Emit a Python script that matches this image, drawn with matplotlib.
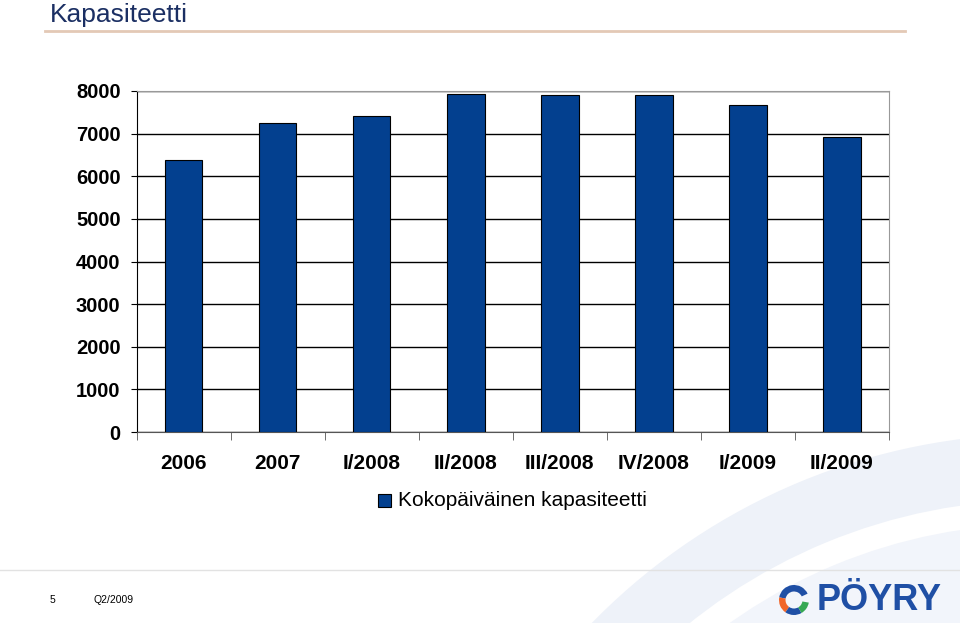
import numpy as np
import matplotlib
matplotlib.use("Agg")
import matplotlib.pyplot as plt
from matplotlib.patches import Rectangle, Wedge

plt.rcParams['font.family'] = ['Liberation Sans', 'DejaVu Sans']

categories = ["2006", "2007", "I/2008", "II/2008", "III/2008", "IV/2008", "I/2009", "II/2009"]
capacity = [6370, 7260, 7420, 7930, 7900, 7910, 7660, 6930]
series_name = "Kokopäiväinen kapasiteetti"
y_ticks = [0, 1000, 2000, 3000, 4000, 5000, 6000, 7000, 8000]

W, H = 960, 623
fig = plt.figure(figsize=(W / 100, H / 100), dpi=100)
fig.patch.set_facecolor("white")

# pixel-space background layer (y down)
bg = fig.add_axes([0, 0, 1, 1], zorder=-10)
bg.set_xlim(0, W)
bg.set_ylim(H, 0)
bg.axis("off")

# faint watermark swooshes, bottom right
bg.add_patch(Wedge((1040, 1060), 626, 0, 360, width=66, color="#eef2f9", lw=0))
bg.add_patch(Wedge((1040, 1060), 536, 0, 360, width=260, color="#f2f5fb", lw=0))

# title and rules
fig.text(50 / W, 1 - 15 / H, "Kapasiteetti", fontsize=19, color="#1b2f63",
         va="center", ha="left")
bg.plot([45, 905], [31, 31], color="#e3c9b6", lw=2)
bg.plot([0, W], [570, 570], color="#e2e2e2", lw=1)
fig.text(52 / W, 1 - 600 / H, "5", fontsize=7.5, va="center", ha="center")
fig.text(93 / W, 1 - 600 / H, "Q2/2009", fontsize=7.5, va="center", ha="left")

# logo
def ring(a1, a2, col):
    # display angles (ccw) -> data angles with inverted y
    bg.add_patch(Wedge((794, 600), 15, -a2, -a1, width=6.5, color=col, lw=0))

ring(25, 170, "#1f4fa5")
ring(170, 235, "#f0662a")
ring(235, 300, "#1f4fa5")
ring(300, 350, "#35a853")
fig.text(817 / W, 1 - 601 / H, "PÖYRY", fontsize=26, fontweight="bold",
         color="#1f4fa5", va="center", ha="left")

# chart
ax = fig.add_axes([136.5 / W, 1 - 432 / H, 752.5 / W, 341 / H])
ax.patch.set_alpha(0)
x = np.arange(len(categories))
ax.bar(x, capacity, width=0.4, color="#03408f", edgecolor="black", lw=0.8,
       zorder=3, label=series_name)
ax.set_xlim(-0.5, len(categories) - 0.5)
ax.set_ylim(0, 8000)
ax.set_yticks(y_ticks)
ax.set_yticklabels([str(v) for v in y_ticks], fontsize=14.5, fontweight="bold")
ax.yaxis.grid(True, color="black", lw=1, zorder=0)
ax.set_xticks(x)
ax.set_xticklabels(categories, fontsize=15, fontweight="bold")
ax.set_xticks(np.arange(-0.5, len(categories)), minor=True)
ax.tick_params(axis="x", which="major", length=0, pad=15.5)
ax.tick_params(axis="x", which="minor", length=6, color="#555555")
ax.tick_params(axis="y", length=4, pad=7.5)
ax.spines["left"].set_color("black")
ax.spines["bottom"].set_color("#555555")
ax.spines["top"].set_color("#999999")
ax.spines["right"].set_color("#999999")

# legend
bg.add_patch(Rectangle((378, 494), 13, 13, facecolor="#03408f", edgecolor="black", lw=0.8))
fig.text(398 / W, 1 - 501 / H, series_name, fontsize=15, va="center", ha="left")

fig.savefig("out.png", dpi=100)
